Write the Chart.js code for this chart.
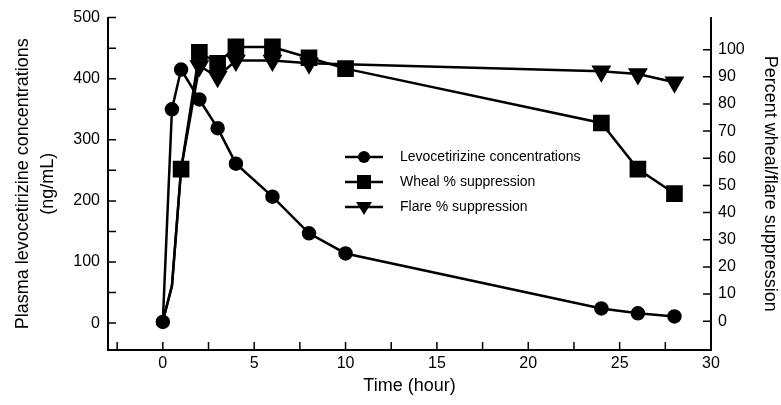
<!DOCTYPE html>
<html>
<head>
<meta charset="utf-8">
<script src="https://cdn.jsdelivr.net/npm/chart.js@4.4.1/dist/chart.umd.min.js"></script>
<style>
  body { margin: 0; background: #fff; }
  #wrap { width: 781px; height: 405px; position: relative; }
</style>
</head>
<body>
<div id="wrap"><canvas id="pkChart"></canvas></div>
<script>
'use strict';

//values
const concTime = [0, 0.5, 1, 2, 3, 4, 6, 8, 10, 24, 26, 28];
const concValues = [2, 350, 415, 366, 319, 261, 207, 147, 114, 24, 16, 11];

const whealTime = [0, 0.5, 1, 2, 3, 4, 6, 8, 10, 24, 26, 28];
const whealValues = [0, 13, 56, 99, 95, 101, 101, 97, 93, 73, 56, 47];

const flareTime = [0, 0.5, 1, 2, 3, 4, 6, 8, 24, 26, 28];
const flareValues = [0, 13, 56, 94, 90, 96, 96, 95, 92, 91, 88];

const seriesNames = ['Levocetirizine concentrations', 'Wheal % suppression', 'Flare % suppression'];

//tick positions
const xTicks = [-2.5, 0, 2.5, 5, 7.5, 10, 12.5, 15, 17.5, 20, 22.5, 25, 27.5, 30];
const leftTicks = [0, 50, 100, 150, 200, 250, 300, 350, 400, 450, 500];
const rightTicks = [0, 10, 20, 30, 40, 50, 60, 70, 80, 90, 100];

const FONT = "'Liberation Sans', Arial, sans-serif";

function toPoints(xs, ys){
  let pts = [];
  for(let i = 0; i < xs.length; i++){
    pts.push({x: xs[i], y: ys[i]});
  }
  return pts;
}

function setTicks(values){
  return function(scale){
    scale.ticks = values.map(v => ({value: v}));
  };
}

//tick marks point into the plot, so draw them by hand from the scales
const innerTicks = {
  id: 'innerTicks',
  afterDraw(chart){
    const ctx = chart.ctx;
    const area = chart.chartArea;
    const len = 8;
    ctx.save();
    ctx.strokeStyle = '#000';
    ctx.lineWidth = 1.5;
    ctx.beginPath();
    for(let v of xTicks){
      let px = chart.scales.x.getPixelForValue(v);
      ctx.moveTo(px, area.bottom);
      ctx.lineTo(px, area.bottom - len);
    }
    for(let v of leftTicks){
      let py = chart.scales.yConc.getPixelForValue(v);
      ctx.moveTo(area.left, py);
      ctx.lineTo(area.left + len, py);
    }
    for(let v of rightTicks){
      let py = chart.scales.yPct.getPixelForValue(v);
      ctx.moveTo(area.right, py);
      ctx.lineTo(area.right - len, py);
    }
    ctx.stroke();
    ctx.restore();
  }
};

//legend sits inside the plot, drawn with the dataset styles
const innerLegend = {
  id: 'innerLegend',
  afterDraw(chart){
    const ctx = chart.ctx;
    const rows = [157, 182, 207];
    ctx.save();
    chart.data.datasets.forEach(function(ds, i){
      let y = rows[i];
      ctx.strokeStyle = '#000';
      ctx.fillStyle = '#000';
      ctx.lineWidth = 2.5;
      ctx.beginPath();
      ctx.moveTo(345, y);
      ctx.lineTo(383, y);
      ctx.stroke();
      ctx.beginPath();
      if(ds.pointStyle === 'circle'){
        ctx.arc(364, y, 6, 0, Math.PI * 2);
      } else if(ds.pointStyle === 'rect'){
        ctx.rect(357, y - 7, 14, 14);
      } else {
        ctx.moveTo(356, y - 5);
        ctx.lineTo(372, y - 5);
        ctx.lineTo(364, y + 8);
        ctx.closePath();
      }
      ctx.fill();
      ctx.font = '14px ' + FONT;
      ctx.textBaseline = 'middle';
      ctx.fillText(ds.label, 400, y);
    });
    ctx.restore();
  }
};

function hideEarly(limit, r){
  return function(c){
    let p = c.raw;
    return (p && p.x < limit) ? 0 : r;
  };
}

const data = {
  datasets: [
    {
      label: seriesNames[0],
      data: toPoints(concTime, concValues),
      yAxisID: 'yConc',
      borderColor: '#000',
      backgroundColor: '#000',
      borderWidth: 2.5,
      pointStyle: 'circle',
      pointRadius: 6,
      tension: 0
    },
    {
      label: seriesNames[1],
      data: toPoints(whealTime, whealValues),
      yAxisID: 'yPct',
      borderColor: '#000',
      backgroundColor: '#000',
      borderWidth: 2.5,
      pointStyle: 'rect',
      pointRadius: hideEarly(1, 10),
      tension: 0
    },
    {
      label: seriesNames[2],
      data: toPoints(flareTime, flareValues),
      yAxisID: 'yPct',
      borderColor: '#000',
      backgroundColor: '#000',
      borderWidth: 2.5,
      pointStyle: 'triangle',
      rotation: 180,
      pointRadius: hideEarly(1.5, 9),
      tension: 0
    }
  ]
};

const config = {
  type: 'line',
  data: data,
  options: {
    responsive: true,
    maintainAspectRatio: false,
    animation: false,
    layout: {padding: {top: 16, left: 0, right: 0, bottom: 0}, autoPadding: false},
    plugins: {legend: {display: false}, tooltip: {enabled: false}},
    scales: {
      x: {
        type: 'linear',
        position: 'bottom',
        min: -3,
        max: 30,
        afterBuildTicks: setTicks(xTicks),
        afterFit: function(s){ s.height = 55; },
        grid: {display: false, drawTicks: false},
        border: {display: true, color: '#000', width: 2},
        ticks: {
          color: '#000',
          padding: 4,
          font: {family: FONT, size: 16},
          autoSkip: false,
          maxRotation: 0,
          callback: function(v){ return (v >= 0 && v % 5 === 0) ? String(v) : ''; }
        },
        title: {display: true, text: 'Time (hour)', color: '#000', font: {family: FONT, size: 18}, padding: {top: 0, bottom: 8}}
      },
      yConc: {
        type: 'linear',
        position: 'left',
        min: -44,
        max: 500,
        afterBuildTicks: setTicks(leftTicks),
        afterFit: function(s){ s.width = 108; },
        grid: {display: false, drawTicks: false},
        border: {display: true, color: '#000', width: 2},
        ticks: {
          color: '#000',
          padding: 8,
          font: {family: FONT, size: 16},
          autoSkip: false,
          callback: function(v){ return v % 100 === 0 ? String(v) : ''; }
        },
        title: {
          display: true,
          text: ['Plasma levocetirizine concentrations', '(ng/mL)'],
          color: '#000',
          font: {family: FONT, size: 18, lineHeight: 1.4},
          padding: {top: 10, bottom: 0}
        }
      },
      yPct: {
        type: 'linear',
        position: 'right',
        min: -10.6,
        max: 111.8,
        afterBuildTicks: setTicks(rightTicks),
        afterFit: function(s){ s.width = 70; },
        grid: {display: false, drawTicks: false},
        border: {display: true, color: '#000', width: 2},
        ticks: {
          color: '#000',
          padding: 7,
          font: {family: FONT, size: 16},
          autoSkip: false
        },
        title: {
          display: true,
          text: 'Percent wheal/flare suppression',
          color: '#000',
          font: {family: FONT, size: 18},
          padding: {top: 0, bottom: 0}
        }
      }
    }
  },
  plugins: [innerTicks, innerLegend]
};

const pkChart = new Chart(document.getElementById('pkChart'), config);
</script>
</body>
</html>
